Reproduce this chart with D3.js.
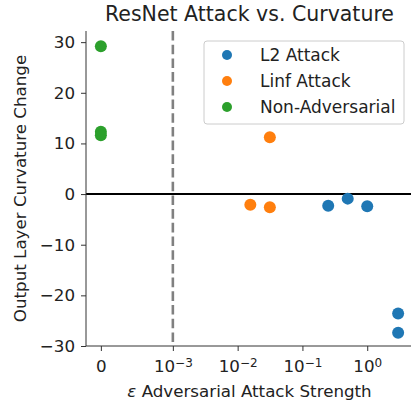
<!DOCTYPE html>
<html>
<head>
<meta charset="utf-8">
<script src="https://cdn.jsdelivr.net/npm/d3@7"></script>
<style>
  body { margin: 0; background: #fff; }
  text { font-family: "DejaVu Sans", sans-serif; }
</style>
</head>
<body>
<svg id="chart" width="411" height="407"></svg>
<script>
// series data
const l2Eps = [0.25, 0.5, 1.0, 3.0, 3.0];
const l2Curv = [-2.3, -0.9, -2.4, -23.6, -27.4];
const linfEps = [0.0157, 0.0314, 0.0314];
const linfCurv = [-2.1, 11.2, -2.6];
const cleanEps = [0, 0, 0];
const cleanCurv = [29.2, 12.3, 11.6];

const seriesNames = ['L2 Attack', 'Linf Attack', 'Non-Adversarial'];
const seriesColors = ['#1f77b4', '#ff7f0e', '#2ca02c'];
const xTickVals = [0, 1e-3, 1e-2, 1e-1, 1];
const xTickExp = [null, '\u22123', '\u22122', '\u22121', '0'];
const yTickVals = [-30, -20, -10, 0, 10, 20, 30];

const svg = d3.select('#chart');
const fs = 16.7;

// symlog like matplotlib: linthresh 1e-3, linscale 1
const linthresh = 1e-3;
const linAdj = 1 / (1 - 1 / 10);
function symlog(v) {
  const a = Math.abs(v);
  if (a <= linthresh) return v / linthresh * linAdj;
  return Math.sign(v) * (linAdj + Math.log10(a / linthresh));
}

const plotL = 86, plotR = 413, plotT = 31, plotB = 346;
const fMax = symlog(3.0);
const pad = fMax * 0.05;
const x = d3.scaleLinear().domain([-pad, fMax + pad]).range([plotL, plotR]);
const xs = v => x(symlog(v));
const y = d3.scaleLinear().domain([-30, 32.2]).range([plotB, plotT]);

// title
svg.append('text')
  .attr('x', (plotL + plotR) / 2)
  .attr('y', 21)
  .attr('text-anchor', 'middle')
  .attr('font-size', '20.5px')
  .attr('fill', '#222')
  .text('ResNet Attack vs. Curvature');

// reference lines
svg.append('line')
  .attr('x1', xs(1e-3)).attr('x2', xs(1e-3))
  .attr('y1', plotT).attr('y2', plotB)
  .attr('stroke', '#808080').attr('stroke-width', 2.6)
  .attr('stroke-dasharray', '9.6,4.1');

svg.append('line')
  .attr('x1', plotL).attr('x2', plotR)
  .attr('y1', y(0)).attr('y2', y(0))
  .attr('stroke', '#000').attr('stroke-width', 2);

// points
const series = [
  { eps: l2Eps, curv: l2Curv },
  { eps: linfEps, curv: linfCurv },
  { eps: cleanEps, curv: cleanCurv }
];
series.forEach((s, k) => {
  svg.append('g').selectAll('circle')
    .data(s.eps.map((e, i) => ({ e: e, c: s.curv[i] })))
    .enter().append('circle')
      .attr('cx', d => xs(d.e))
      .attr('cy', d => y(d.c))
      .attr('r', 6)
      .attr('fill', seriesColors[k]);
});

// axes
const axisColor = '#333';
const yAxis = svg.append('g')
  .attr('transform', `translate(${plotL},0)`)
  .call(d3.axisLeft(y).tickValues(yTickVals).tickSize(5).tickPadding(6)
    .tickFormat(d => d < 0 ? '\u2212' + Math.abs(d) : d));
yAxis.selectAll('text').attr('font-size', fs + 'px').attr('fill', '#222')
  .attr('font-family', '"DejaVu Sans", sans-serif');
yAxis.select('.domain').attr('stroke', axisColor).attr('d', `M0,${plotT}V${plotB}`);
yAxis.selectAll('.tick line').attr('stroke', axisColor);

const xAxis = svg.append('g')
  .attr('transform', `translate(0,${plotB})`)
  .call(d3.axisBottom(x).tickValues(xTickVals.map(symlog)).tickSize(5).tickPadding(4)
    .tickFormat(() => ''));
xAxis.select('.domain').attr('stroke', axisColor).attr('d', `M${plotL},0H${plotR}`);
xAxis.selectAll('.tick line').attr('stroke', axisColor);
xAxis.selectAll('.tick text').each(function(d, i) {
  const t = d3.select(this)
    .attr('font-size', fs + 'px').attr('fill', '#222')
    .attr('font-family', '"DejaVu Sans", sans-serif')
    .attr('y', 26).attr('dy', null);
  if (xTickExp[i] === null) {
    t.text('0');
  } else {
    t.append('tspan').text('10');
    t.append('tspan').attr('dy', '-0.45em').attr('font-size', '12px').text(xTickExp[i]);
  }
});

// axis labels
svg.append('text')
  .attr('x', (plotL + plotR) / 2)
  .attr('y', 397)
  .attr('text-anchor', 'middle')
  .attr('font-size', fs + 'px')
  .attr('fill', '#222')
  .html('<tspan font-style="italic">\u03b5</tspan> Adversarial Attack Strength');

svg.append('text')
  .attr('transform', `translate(26,${(plotT + plotB) / 2}) rotate(-90)`)
  .attr('text-anchor', 'middle')
  .attr('font-size', fs + 'px')
  .attr('fill', '#222')
  .text('Output Layer Curvature Change');

// legend
const legend = svg.append('g').attr('transform', 'translate(204,41)');
legend.append('rect')
  .attr('width', 200).attr('height', 83)
  .attr('rx', 3)
  .attr('fill', '#fff').attr('fill-opacity', 0.8)
  .attr('stroke', '#ccc');
seriesNames.forEach((name, i) => {
  legend.append('circle')
    .attr('cx', 23).attr('cy', 14 + i * 26)
    .attr('r', 5)
    .attr('fill', seriesColors[i]);
  legend.append('text')
    .attr('x', 56).attr('y', 14 + i * 26)
    .attr('dy', '0.35em')
    .attr('font-size', '17px')
    .attr('fill', '#222')
    .text(name);
});
</script>
</body>
</html>
